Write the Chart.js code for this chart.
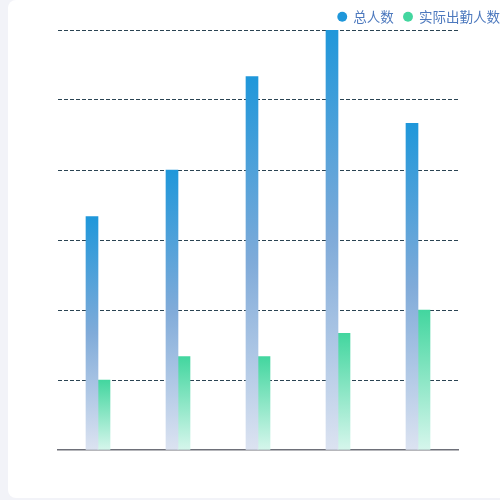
<!DOCTYPE html>
<html>
<head>
<meta charset="utf-8">
<script src="https://cdn.jsdelivr.net/npm/chart.js@4/dist/chart.umd.min.js"></script>
<style>
  html, body { margin: 0; padding: 0; background: #f2f3f8; overflow: hidden; width: 500px; height: 500px; }
  .card { position: absolute; left: 8px; top: 0; width: 520px; height: 498px; background: #fff; border-radius: 8px; }
  canvas { position: absolute; left: 0; top: 0; }
</style>
</head>
<body>
<div class="card"><canvas id="myChart" width="502" height="498"></canvas></div>
<script>
// 카테고리 (화면에 라벨은 안 보임)
var categories = ['1', '2', '3', '4', '5'];
var totalValues = [100, 120, 160, 180, 140];
var actualValues = [30, 40, 40, 50, 60];
var yTicks = [0, 30, 60, 90, 120, 150, 180];

// 막대마다 위에서 아래로 그라데이션
function barGradient(stops) {
    return function (ctx) {
        var chart = ctx.chart;
        if (!chart.chartArea || ctx.parsed === undefined) return stops[0];
        var y = chart.scales.y;
        var y0 = y.getPixelForValue(ctx.parsed.y);
        var y1 = y.getPixelForValue(0);
        if (!isFinite(y0) || y0 === y1) return stops[0];
        var g = chart.ctx.createLinearGradient(0, y0, 0, y1);
        stops.forEach(function (c, i) { g.addColorStop(i / (stops.length - 1), c); });
        return g;
    };
}

// 범례 높이를 30px로 고정
var legendHeight = {
    id: 'legendHeight',
    beforeLayout: function (chart) {
        var lg = chart.legend;
        if (lg && !lg._fixed) {
            var fit = lg.fit;
            lg.fit = function () { fit.call(this); this.height = 30; };
            lg._fixed = true;
        }
    }
};

var chartArea = document.getElementById('myChart').getContext('2d');
var myChart = new Chart(chartArea, {
    type: 'bar',
    data: {
        labels: categories,
        datasets: [{
            label: '总人数',
            data: totalValues,
            backgroundColor: barGradient(['#1f97da', '#80abd9', '#dce3f1']),
            borderWidth: 0,
            barThickness: 12,
            categoryPercentage: 0.35
        },
        {
            label: '实际出勤人数',
            data: actualValues,
            backgroundColor: barGradient(['#43d69f', '#d6f6ec']),
            borderWidth: 0,
            barThickness: 12,
            categoryPercentage: 0.35
        }]
    },
    plugins: [legendHeight],
    options: {
        responsive: false,
        animation: false,
        layout: { padding: 0 },
        plugins: {
            tooltip: { enabled: false },
            legend: {
                position: 'top',
                align: 'end',
                labels: {
                    usePointStyle: true,
                    pointStyle: 'circle',
                    boxWidth: 8.5,
                    boxHeight: 7,
                    padding: 10,
                    color: '#4d79be',
                    font: { family: '"Noto Sans CJK SC", sans-serif', size: 13.5 },
                    generateLabels: function (chart) {
                        var cols = ['#1f97da', '#43d69f'];
                        return chart.data.datasets.map(function (ds, i) {
                            return { text: ds.label, fillStyle: cols[i], strokeStyle: cols[i], lineWidth: 0, pointStyle: 'circle', datasetIndex: i, fontColor: '#4d79be' };
                        });
                    }
                }
            }
        },
        scales: {
            x: {
                grid: { display: false },
                ticks: { display: false },
                border: { display: true, color: '#6e7079', width: 1.5 },
                afterFit: function (s) { s.height = 48; }
            },
            y: {
                min: 0,
                max: 180,
                afterBuildTicks: function (s) { s.ticks = yTicks.map(function (v) { return { value: v }; }); },
                ticks: { display: false },
                border: { display: false, dash: [4, 2] },
                grid: {
                    color: function (ctx) { return ctx.tick && ctx.tick.value === 0 ? 'rgba(0,0,0,0)' : '#2b4453'; },
                    drawTicks: false,
                    lineWidth: 1
                },
                afterFit: function (s) { s.width = 50; }
            },
            y2: {
                position: 'right',
                display: true,
                grid: { display: false },
                ticks: { display: false },
                border: { display: false },
                afterFit: function (s) { s.width = 52; }
            }
        }
    }
});
</script>
</body>
</html>
